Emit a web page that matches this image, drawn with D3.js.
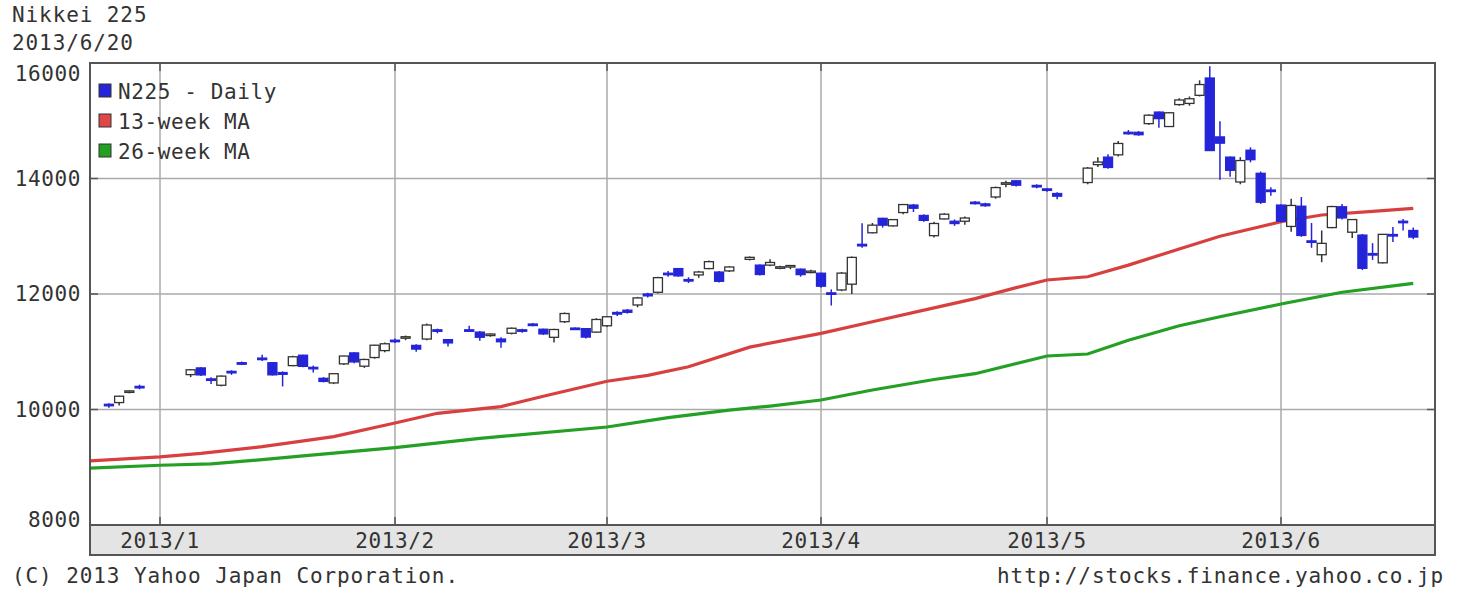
<!DOCTYPE html>
<html><head><meta charset="utf-8">
<script src="https://cdn.jsdelivr.net/npm/d3@7"></script>
<style>body{margin:0;background:#fff}text{font-family:"DejaVu Sans Mono",monospace;}</style>
</head><body><svg id="c" width="1461" height="600"></svg>
<script>
const dates=["2012-12-25","2012-12-26","2012-12-27","2012-12-28",
"2013-01-04","2013-01-07","2013-01-08","2013-01-09","2013-01-10","2013-01-11","2013-01-15","2013-01-16","2013-01-17","2013-01-18","2013-01-21","2013-01-22","2013-01-23","2013-01-24","2013-01-25","2013-01-28","2013-01-29","2013-01-30","2013-01-31",
"2013-02-01","2013-02-04","2013-02-05","2013-02-06","2013-02-07","2013-02-08","2013-02-12","2013-02-13","2013-02-14","2013-02-15","2013-02-18","2013-02-19","2013-02-20","2013-02-21","2013-02-22","2013-02-25","2013-02-26","2013-02-27","2013-02-28",
"2013-03-01","2013-03-04","2013-03-05","2013-03-06","2013-03-07","2013-03-08","2013-03-11","2013-03-12","2013-03-13","2013-03-14","2013-03-15","2013-03-18","2013-03-19","2013-03-21","2013-03-22","2013-03-25","2013-03-26","2013-03-27","2013-03-28","2013-03-29",
"2013-04-01","2013-04-02","2013-04-03","2013-04-04","2013-04-05","2013-04-08","2013-04-09","2013-04-10","2013-04-11","2013-04-12","2013-04-15","2013-04-16","2013-04-17","2013-04-18","2013-04-19","2013-04-22","2013-04-23","2013-04-24","2013-04-25","2013-04-26","2013-04-30",
"2013-05-01","2013-05-02","2013-05-07","2013-05-08","2013-05-09","2013-05-10","2013-05-13","2013-05-14","2013-05-15","2013-05-16","2013-05-17","2013-05-20","2013-05-21","2013-05-22","2013-05-23","2013-05-24","2013-05-27","2013-05-28","2013-05-29","2013-05-30","2013-05-31",
"2013-06-03","2013-06-04","2013-06-05","2013-06-06","2013-06-07","2013-06-10","2013-06-11","2013-06-12","2013-06-13","2013-06-14","2013-06-17","2013-06-18","2013-06-19","2013-06-20"];
const open=[10090,10120,10300,10400,
10604,10720,10530,10420,10660,10810,10890,10810,10640,10760,10940,10730,10540,10460,10790,10980,10750,10900,11020,
11200,11240,11110,11220,11380,11210,11380,11340,11280,11220,11320,11380,11480,11390,11250,11520,11410,11400,11340,
11450,11680,11720,11810,12000,12030,12360,12440,12250,12330,12440,12380,12400,12600,12500,12500,12450,12480,12430,12390,
12360,12020,12070,12170,12860,13060,13310,13180,13410,13540,13360,13010,13300,13260,13260,13590,13560,13680,13900,13960,13880,
13820,13740,13930,14240,14370,14410,14800,14800,14950,15150,14900,15280,15300,15440,15740,14720,14370,13940,14490,14090,13800,
13540,13170,13520,12920,12680,13150,13510,13070,13020,12700,12540,13030,13260,13100];
const high=[10110,10240,10330,10430,
10700,10730,10560,10590,10680,10830,10950,10820,10660,10930,10950,10760,10560,10630,10930,10990,10880,11120,11160,
11230,11280,11130,11490,11400,11220,11450,11360,11320,11250,11420,11400,11500,11400,11400,11680,11420,11410,11580,
11620,11700,11740,11950,12020,12300,12400,12450,12290,12400,12580,12400,12480,12650,12510,12600,12490,12500,12440,12420,
12370,12080,12380,12650,13225,13230,13320,13300,13560,13560,13380,13250,13400,13290,13340,13610,13580,13860,13960,13970,13900,
13830,13760,14200,14370,14420,14650,14840,14820,15110,15160,15150,15390,15420,15700,15942,14990,14380,14370,14540,14120,13850,
13550,13650,13680,13230,13100,13530,13560,13300,13040,12880,13040,13160,13300,13150];
const low=[10030,10070,10280,10350,
10560,10580,10440,10400,10600,10770,10840,10590,10400,10750,10730,10640,10470,10440,10770,10800,10720,10880,10990,
11150,11200,11000,11200,11320,11090,11340,11190,11260,11070,11300,11330,11440,11290,11160,11500,11380,11230,11330,
11430,11620,11660,11770,11940,12010,12300,12300,12190,12280,12430,12200,12380,12580,12320,12480,12430,12430,12300,12360,
12110,11800,12050,12000,12800,13050,13150,13170,13380,13420,13250,12980,13290,13180,13200,13550,13510,13650,13850,13860,13830,
13770,13640,13900,14200,14170,14380,14760,14740,14930,14880,14890,15260,15260,15420,14484,13980,14030,13900,14280,13560,13700,
13240,13080,12990,12800,12550,13140,13290,12970,12415,12590,12530,12900,13100,12950];
const close=[10080,10230,10322,10395,
10688,10599,10508,10578,10652,10801,10879,10600,10609,10913,10747,10709,10486,10620,10926,10824,10866,11113,11138,
11191,11260,11046,11463,11357,11153,11369,11251,11307,11173,11407,11372,11468,11309,11385,11662,11398,11254,11559,
11606,11652,11683,11932,11968,12283,12349,12314,12239,12381,12560,12220,12468,12635,12338,12546,12471,12493,12336,12397,
12135,12003,12362,12634,12833,13192,13192,13288,13549,13485,13275,13221,13382,13220,13316,13568,13529,13843,13926,13884,13860,
13799,13694,14180,14285,14191,14607,14782,14758,15096,15037,15138,15360,15381,15627,14484,14612,14142,14311,14326,13589,13774,
13261,13533,13014,12904,12877,13514,13317,13289,12445,12686,13033,13007,13245,12986];

const maDates13=["2012-12-21","2013-01-01","2013-01-07","2013-01-15","2013-01-18","2013-01-24","2013-02-01","2013-02-07","2013-02-15","2013-02-21","2013-03-01","2013-03-07","2013-03-13","2013-03-21","2013-04-01","2013-04-08","2013-04-16","2013-04-22","2013-04-26","2013-05-01","2013-05-07","2013-05-13","2013-05-20","2013-05-24","2013-06-03","2013-06-07","2013-06-14","2013-06-20"];
const ma13=[9110,9180,9240,9357,9430,9530,9766,9934,10050,10230,10490,10590,10740,11080,11319,11520,11760,11920,12110,12242,12299,12500,12780,13000,13252,13368,13430,13483];
const maDates26=["2012-12-21","2013-01-01","2013-01-08","2013-01-15","2013-01-21","2013-02-01","2013-02-13","2013-03-01","2013-03-11","2013-03-19","2013-03-25","2013-04-01","2013-04-08","2013-04-16","2013-04-22","2013-05-01","2013-05-07","2013-05-13","2013-05-20","2013-05-24","2013-06-03","2013-06-11","2013-06-20"];
const ma26=[8985,9035,9060,9131,9198,9340,9500,9697,9860,9990,10060,10165,10338,10520,10620,10926,10961,11200,11450,11607,11827,12030,12185];

const yTicks=[8000,10000,12000,14000,16000];
const gridY=[10000,12000,14000];
const monthTicks=["2013-01-01","2013-02-01","2013-03-01","2013-04-01","2013-05-01","2013-06-03"];
const monthLabels=["2013/1","2013/2","2013/3","2013/4","2013/5","2013/6"];
const legendLabels=["N225 - Daily","13-week MA","26-week MA"];
const legendColors=["#2424d8","#e04848","#22a022"];

function wd(s){const t=Date.parse(s+"T00:00:00Z"),b=Date.UTC(2013,0,1),D=864e5;let n=0;
 if(t>=b){for(let d=b;d<t;d+=D){const w=new Date(d).getUTCDay();if(w>0&&w<6)n++;}}
 else{for(let d=t;d<b;d+=D){const w=new Date(d).getUTCDay();if(w>0&&w<6)n--;}}return n;}

const L=90,R=1435,T=63,B=525;
const svg=d3.select("#c");
const x=d3.scaleLinear().domain(monthTicks.map(wd)).range([160,395,607,821,1047,1281]);
const y=d3.scaleLinear().domain([8000,16000]).range([B,T]);
const txt="#333";

svg.append("rect").attr("x",0).attr("y",0).attr("width",1461).attr("height",600).attr("fill","#fff");
svg.append("defs").append("clipPath").attr("id","clip").append("rect").attr("x",L).attr("y",T).attr("width",R-L).attr("height",B-T);

// grid
const g=svg.append("g");
g.selectAll(".gy").data(gridY).join("line").attr("x1",L).attr("x2",R).attr("y1",d=>y(d)).attr("y2",d=>y(d)).attr("stroke","#aaa").attr("stroke-width",1.5);
g.selectAll(".gx").data(monthTicks).join("line").attr("x1",d=>x(wd(d))).attr("x2",d=>x(wd(d))).attr("y1",T).attr("y2",B).attr("stroke","#aaa").attr("stroke-width",1.5);
// ticks
g.selectAll(".ty").data(gridY).join("g").each(function(d){const s=d3.select(this);
 s.append("line").attr("x1",L).attr("x2",L+8).attr("y1",y(d)).attr("y2",y(d)).attr("stroke","#555").attr("stroke-width",1.5);
 s.append("line").attr("x1",R-8).attr("x2",R).attr("y1",y(d)).attr("y2",y(d)).attr("stroke","#555").attr("stroke-width",1.5);});
g.selectAll(".tx").data(monthTicks).join("g").each(function(d){const s=d3.select(this),xx=x(wd(d));
 s.append("line").attr("x1",xx).attr("x2",xx).attr("y1",T).attr("y2",T+8).attr("stroke","#555").attr("stroke-width",1.5);
 s.append("line").attr("x1",xx).attr("x2",xx).attr("y1",B-8).attr("y2",B).attr("stroke","#555").attr("stroke-width",1.5);});

// MA lines
const plot=svg.append("g").attr("clip-path","url(#clip)");
const line=d3.line().x(d=>x(wd(d[0]))).y(d=>y(d[1]));
plot.append("path").datum(maDates26.map((d,i)=>[d,ma26[i]])).attr("d",line).attr("fill","none").attr("stroke","#24a024").attr("stroke-width",3.2);
plot.append("path").datum(maDates13.map((d,i)=>[d,ma13[i]])).attr("d",line).attr("fill","none").attr("stroke","#d84040").attr("stroke-width",3.2);

// candles
const blue="#2424d8";
const cd=dates.map((d,i)=>({x:x(wd(d)),o:open[i],h:high[i],l:low[i],c:close[i]}));
const cg=plot.selectAll(".cd").data(cd).join("g");
cg.append("line").attr("x1",d=>d.x).attr("x2",d=>d.x).attr("y1",d=>y(d.h)).attr("y2",d=>y(d.l))
 .attr("stroke",d=>d.c<d.o?blue:"#333").attr("stroke-width",1.5);
cg.append("rect").attr("x",d=>d.x-4.5).attr("width",9)
 .attr("y",d=>Math.min(y(d.o),y(d.c))).attr("height",d=>Math.max(1.5,Math.abs(y(d.o)-y(d.c))))
 .attr("fill",d=>d.c<d.o?blue:"#fff").attr("stroke",d=>d.c<d.o?blue:"#333").attr("stroke-width",1.3);

// border
svg.append("rect").attr("x",L).attr("y",T).attr("width",R-L).attr("height",B-T).attr("fill","none").attr("stroke","#555").attr("stroke-width",2);
// x band
svg.append("rect").attr("x",L).attr("y",B).attr("width",R-L).attr("height",30).attr("fill","#e4e4e4").attr("stroke","#555").attr("stroke-width",2);
svg.selectAll(".ml").data(monthTicks).join("text").attr("x",d=>x(wd(d))).attr("y",B+16).attr("text-anchor","middle").attr("dominant-baseline","central")
 .attr("font-size",21).attr("letter-spacing",0.6).attr("fill",txt).text((d,i)=>monthLabels[i]);

// y labels
svg.selectAll(".yl").data(yTicks).join("text").attr("x",81).attr("y",d=>Math.max(T+11,Math.min(B-5,y(d)))).attr("text-anchor","end").attr("dominant-baseline","central")
 .attr("font-size",21).attr("letter-spacing",0.6).attr("fill",txt).text(d=>d);

// legend
const lg=svg.append("g");
legendLabels.forEach((t,i)=>{const yy=91+i*30;
 lg.append("rect").attr("x",99).attr("y",yy-7).attr("width",12).attr("height",13).attr("fill",legendColors[i]).attr("stroke","#333").attr("stroke-width",1);
 lg.append("text").attr("x",118).attr("y",yy+1).attr("dominant-baseline","central").attr("font-size",21).attr("letter-spacing",0.6).attr("fill",txt).text(t);});

// titles
svg.append("text").attr("x",12).attr("y",22).attr("font-size",21).attr("letter-spacing",0.9).attr("fill",txt).text("Nikkei 225");
svg.append("text").attr("x",12).attr("y",50).attr("font-size",21).attr("letter-spacing",0.9).attr("fill",txt).text("2013/6/20");
svg.append("text").attr("x",12).attr("y",583).attr("font-size",21).attr("letter-spacing",0.9).attr("fill",txt).text("(C) 2013 Yahoo Japan Corporation.");
svg.append("text").attr("x",1444).attr("y",583).attr("text-anchor","end").attr("font-size",21).attr("letter-spacing",0.9).attr("fill",txt).text("http://stocks.finance.yahoo.co.jp");
</script></body></html>
